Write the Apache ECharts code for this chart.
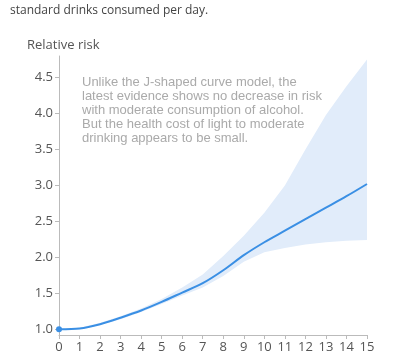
<!DOCTYPE html>
<html><head><meta charset="utf-8">
<script src="https://cdn.jsdelivr.net/npm/echarts@6/dist/echarts.min.js"></script>
<style>html,body{margin:0;padding:0;background:#fff}#c{width:396px;height:360px}</style>
</head><body><div id="c"></div>
<script>
const drinks = ['0','1','2','3','4','5','6','7','8','9','10','11','12','13','14','15'];
const risk   = [1.00,1.01,1.07,1.16,1.26,1.38,1.51,1.64,1.82,2.03,2.21,2.37,2.53,2.69,2.85,3.02];
const lower  = [1.00,1.00,1.06,1.14,1.24,1.35,1.47,1.58,1.74,1.94,2.07,2.13,2.18,2.21,2.23,2.24];
const upper  = [1.00,1.02,1.09,1.18,1.29,1.42,1.58,1.76,2.02,2.30,2.62,3.00,3.50,3.98,4.38,4.75];
const yTicks = [1.0,1.5,2.0,2.5,3.0,3.5,4.0,4.5];
const noteLines = ['Unlike the J-shaped curve model, the','latest evidence shows no decrease in risk','with moderate consumption of alcohol.','But the health cost of light to moderate','drinking appears to be small.'];

const chart = echarts.init(document.getElementById('c'));
const bandDiff = upper.map((u,i)=> +(u - lower[i]).toFixed(3));
chart.setOption({
  animation:false,
  grid:{left:59,right:29,top:56,bottom:25},
  title:[
    {text:'standard drinks consumed per day.',left:5,top:0,textStyle:{fontFamily:'Open Sans',fontSize:12,fontWeight:'normal',color:'#444'}},
    {text:'Relative risk',left:22,top:34,textStyle:{fontFamily:'Open Sans',fontSize:13,fontWeight:'normal',color:'#555'}}
  ],
  graphic:[{type:'text',left:82,top:75,style:{text:noteLines.join('\n'),font:'13px "Liberation Sans", Arial, sans-serif',fill:'#aaaaaa',lineHeight:14}}],
  xAxis:{type:'category',data:drinks,boundaryGap:false,
    axisLine:{lineStyle:{color:'#bbb',width:1}},
    axisTick:{show:true,length:4,alignWithLabel:true,lineStyle:{color:'#bbb'}},
    axisLabel:{color:'#555',fontFamily:'Open Sans',fontSize:13,margin:6,interval:0},
    splitLine:{show:false}},
  yAxis:{type:'value',min:0.92,max:4.8,
    axisLine:{show:true,lineStyle:{color:'#bbb',width:1}},
    axisTick:{show:true,length:4,lineStyle:{color:'#bbb'},customValues:yTicks},
    axisLabel:{color:'#555',fontFamily:'Open Sans',fontSize:13,margin:6,customValues:yTicks,formatter:v=>v.toFixed(1)},
    splitLine:{show:false}},
  series:[
    {type:'line',data:lower,stack:'band',symbol:'none',lineStyle:{opacity:0},areaStyle:{opacity:0},silent:true},
    {type:'line',data:bandDiff,stack:'band',symbol:'none',lineStyle:{opacity:0},areaStyle:{color:'#e1ecfa',opacity:1},silent:true},
    {type:'line',data:risk,smooth:0.3,lineStyle:{color:'#3a8fe4',width:2},itemStyle:{color:'#3a8fe4'},
      symbol:'circle',symbolSize:(v,p)=>p.dataIndex===0?6:0,showSymbol:true}
  ]
});
</script></body></html>
